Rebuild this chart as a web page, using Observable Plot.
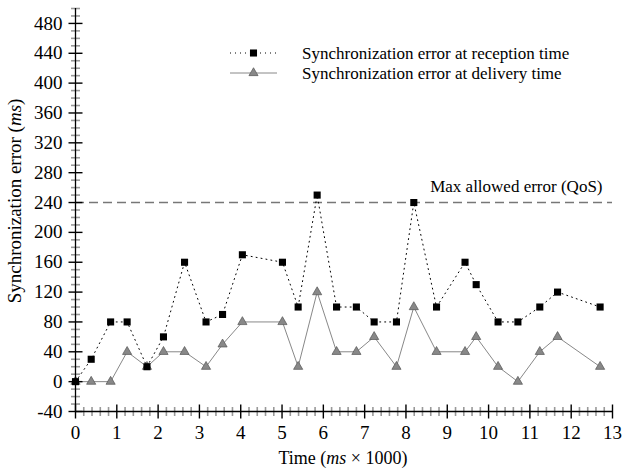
<!DOCTYPE html>
<html><head><meta charset="utf-8">
<script src="https://cdn.jsdelivr.net/npm/d3@7"></script>
<script src="https://cdn.jsdelivr.net/npm/@observablehq/plot@0.6"></script>
<style>
body{margin:0;background:#fff}
svg text, svg tspan, svg{font-family:"Liberation Serif","DejaVu Serif",serif !important;}
</style>
</head><body><div id="chart"></div>
<script>
const time      = [0, 0.38, 0.85, 1.25, 1.73, 2.13, 2.64, 3.16, 3.56, 4.04, 5.01, 5.39, 5.85, 6.32, 6.80, 7.23, 7.77, 8.19, 8.74, 9.43, 9.70, 10.23, 10.71, 11.24, 11.67, 12.70];
const reception = [0, 30, 80, 80, 20, 60, 160, 80, 90, 170, 160, 100, 250, 100, 100, 80, 80, 240, 100, 160, 130, 80, 80, 100, 120, 100];
const delivery  = [0, 0, 0, 40, 20, 40, 40, 20, 50, 80, 80, 20, 120, 40, 40, 60, 20, 100, 40, 40, 60, 20, 0, 40, 60, 20];
const qos = [240];
const seriesNames = ["Synchronization error at reception time", "Synchronization error at delivery time"];
const qosLabel = "Max allowed error (QoS)";
const yMajor = d3.range(-40, 481, 40);
const yMinor = d3.range(-40, 501, 10).filter(v => ((v % 40) + 40) % 40 !== 0);
const xMajor = d3.range(0, 14, 1);
const xMinor = d3.range(0, 66, 1).map(i => +(i * 0.2).toFixed(1)).filter(v => v % 1 !== 0);

const recData = time.map((t, i) => ({t, v: reception[i]}));
const delData = time.map((t, i) => ({t, v: delivery[i]}));

const font = '"Liberation Serif","DejaVu Serif",serif';
// tick-mark symbols that cross the axis line
const hbar = half => ({draw(ctx) { ctx.moveTo(-half, 0); ctx.lineTo(half, 0); }});
const vbar = half => ({draw(ctx) { ctx.moveTo(0, -half); ctx.lineTo(0, half); }});

const svg = Plot.plot({
  width: 630, height: 472,
  marginLeft: 75, marginRight: 18, marginTop: 8, marginBottom: 61,
  style: {fontFamily: font, fontSize: "19px", background: "#fff", color: "#000"},
  x: {domain: [0, 13], axis: null},
  y: {domain: [-40, 500], axis: null},
  marks: [
    Plot.ruleY(qos, {stroke: "#777", strokeWidth: 1.4, strokeDasharray: "9,5"}),
    Plot.text(qos, {y: d => d, frameAnchor: "right", text: () => qosLabel, textAnchor: "end", dx: -10, dy: -16, fontSize: 17}),
    Plot.line(recData, {x: "t", y: "v", stroke: "#000", strokeWidth: 1, strokeDasharray: "1,4"}),
    Plot.line(delData, {x: "t", y: "v", stroke: "#888", strokeWidth: 1}),
    Plot.dot(delData, {x: "t", y: "v", symbol: "triangle", r: 3.4, fill: "#888", stroke: "#555", strokeWidth: 0.7}),
    Plot.dot(recData, {x: "t", y: "v", symbol: "square", r: 4, fill: "#000"}),
    // y axis ticks
    Plot.dot(yMinor, {y: d => d, frameAnchor: "left", symbol: hbar(4.5), r: 3, fill: "none", stroke: "#999", strokeWidth: 1.6}),
    Plot.dot(yMajor, {y: d => d, frameAnchor: "left", symbol: hbar(7), r: 3, fill: "none", stroke: "#000", strokeWidth: 1.4}),
    Plot.axisY({ticks: yMajor, tickSize: 0, tickPadding: 13, tickFormat: d => String(d), label: null}),
    // x axis ticks
    Plot.dot(xMinor, {x: d => d, frameAnchor: "bottom", symbol: vbar(4.5), r: 3, fill: "none", stroke: "#999", strokeWidth: 1.6}),
    Plot.dot(xMajor, {x: d => d, frameAnchor: "bottom", symbol: vbar(7), r: 3, fill: "none", stroke: "#000", strokeWidth: 1.4}),
    Plot.axisX({ticks: xMajor, tickSize: 0, tickPadding: 14, tickFormat: d => String(d), label: null}),
    Plot.ruleX([0], {stroke: "#000", strokeWidth: 1.3}),
    Plot.ruleY([-40], {stroke: "#000", strokeWidth: 1.3})
  ]
});
document.getElementById("chart").appendChild(svg);

const s = d3.select(svg);
// axis titles
const yt = s.append("text").attr("transform", "translate(21,201) rotate(-90)")
  .attr("text-anchor", "middle").attr("font-size", 19);
yt.append("tspan").text("Synchronization error (");
yt.append("tspan").attr("font-style", "italic").text("ms");
yt.append("tspan").text(")");
const xt = s.append("text").attr("x", 343).attr("y", 464)
  .attr("text-anchor", "middle").attr("font-size", 18);
xt.append("tspan").text("Time (");
xt.append("tspan").attr("font-style", "italic").text("ms");
xt.append("tspan").text(" × 1000)");

// legend
const lg = s.append("g").attr("font-size", 17).attr("text-anchor", "start");
const rows = [
  {y: 53, dash: "1,4", stroke: "#000", sym: d3.symbolSquare, size: 50, fill: "#000", sstroke: "none"},
  {y: 73, dash: null, stroke: "#888", sym: d3.symbolTriangle, size: 36, fill: "#888", sstroke: "#555"}
];
rows.forEach((r, i) => {
  lg.append("line").attr("x1", 230).attr("x2", 277).attr("y1", r.y).attr("y2", r.y)
    .attr("stroke", r.stroke).attr("stroke-dasharray", r.dash);
  lg.append("path").attr("d", d3.symbol(r.sym, r.size)()).attr("transform", `translate(253.5,${r.y})`)
    .attr("fill", r.fill).attr("stroke", r.sstroke).attr("stroke-width", 0.7);
  lg.append("text").attr("x", 302).attr("y", r.y).attr("dy", "0.35em").attr("text-anchor", "start").text(seriesNames[i]);
});
</script>
</body></html>
